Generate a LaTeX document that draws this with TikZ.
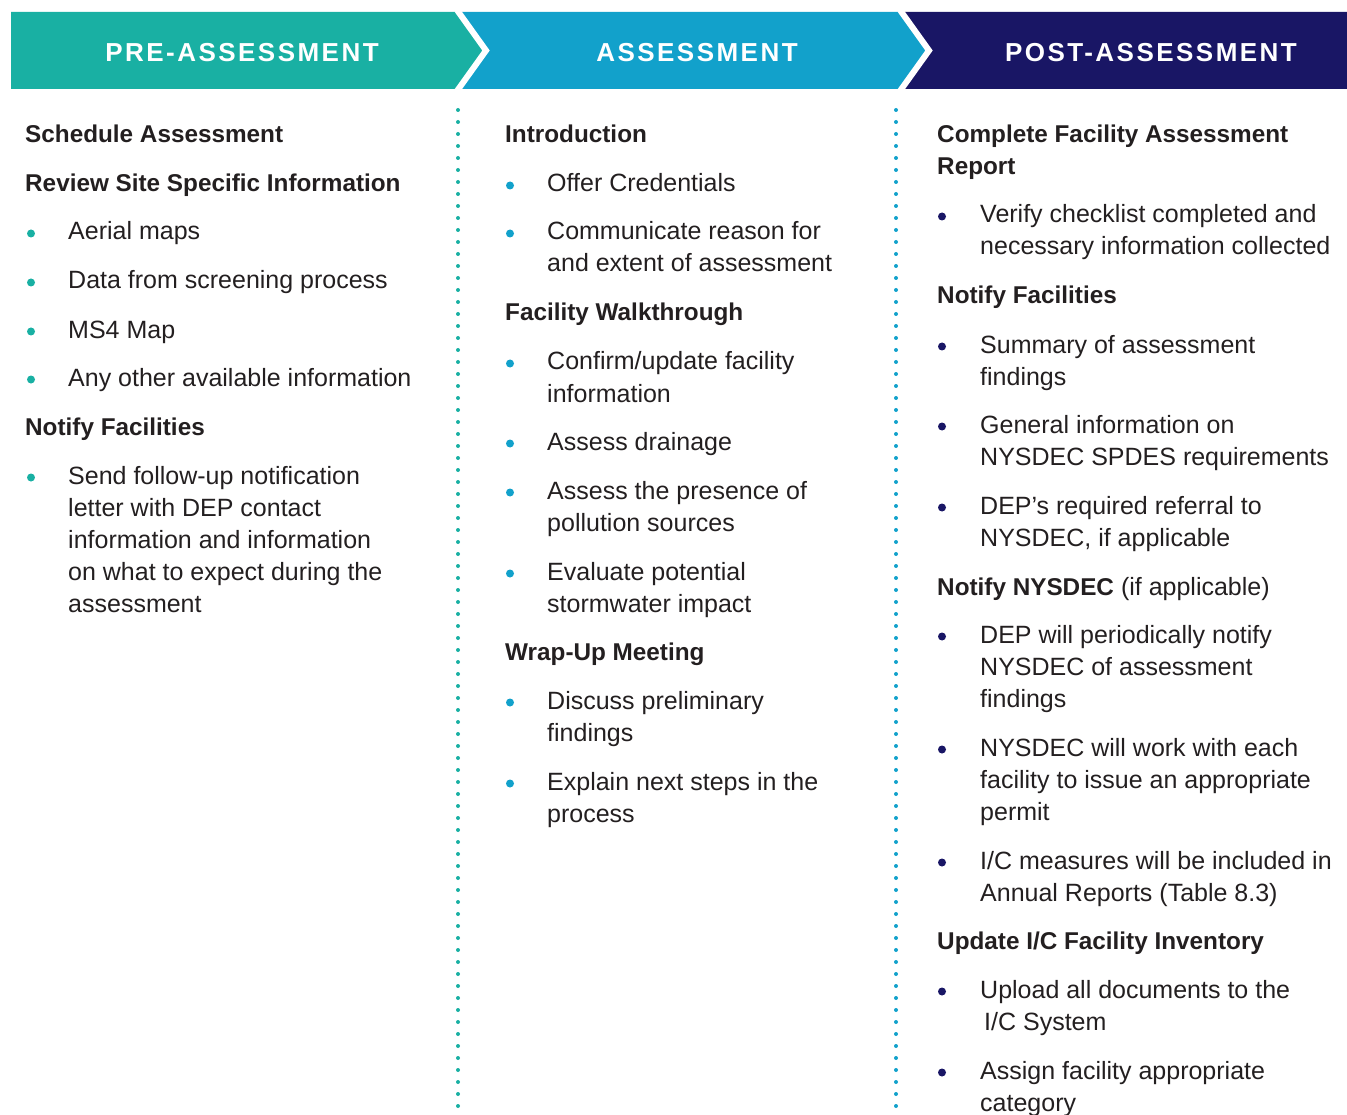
\documentclass[tikz,border=0pt]{standalone}
\usepackage{fontspec}
\setmainfont{Liberation Sans}
\newfontfamily\hdfont[LetterSpace=9.5]{Liberation Sans}
\definecolor{cteal}{HTML}{19B0A3}
\definecolor{cblue}{HTML}{12A1CB}
\definecolor{cnavy}{HTML}{191665}
\definecolor{ink}{HTML}{231F20}
\begin{document}
\begin{tikzpicture}[x=1pt,y=-1pt,
  hd/.style={anchor=base west, inner sep=0pt, font=\fontsize{24.3}{30}\selectfont\bfseries, text=ink},
  tx/.style={anchor=base west, inner sep=0pt, font=\fontsize{25}{32}\selectfont, text=ink},
  bul/.style={circle, fill=#1, inner sep=0pt, minimum size=8pt, yshift=3pt},
  hdr/.style={inner sep=0pt, font=\hdfont\fontsize{26}{30}\selectfont\bfseries, text=white},
  dots/.style={draw=#1, line width=4pt, line cap=round, dash pattern=on 0pt off 12pt}]
\useasboundingbox (0,0) rectangle (1347,1115);
% header band
\fill[cteal] (11,12) -- (457,12) -- (486,50.5) -- (457,89) -- (11,89) -- cycle;
\fill[cblue] (457,12) -- (900,12) -- (929,50.5) -- (900,89) -- (457,89) -- (486,50.5) -- cycle;
\fill[cnavy] (900,12) -- (1347,12) -- (1347,89) -- (900,89) -- (929,50.5) -- cycle;
\draw[white, line width=6pt] (457,10) -- (486,50.5) -- (457,91);
\draw[white, line width=6pt] (900,10) -- (929,50.5) -- (900,91);
\node[hdr] (h1) at (242,53) {PRE-ASSESSMENT};
\node[hdr] (h2) at (697,53) {ASSESSMENT};
\node[hdr] (h3) at (1151,53) {POST-ASSESSMENT};
% dotted separators
\coordinate (d1t) at (458,110); \coordinate (d1b) at (458,1120);
\coordinate (d2t) at (896,110); \coordinate (d2b) at (896,1120);
\draw[dots=cteal] (d1t) -- (d1b);
\draw[dots=cblue] (d2t) -- (d2b);
% column 1
\node[hd] (a1) at (25,143) {Schedule Assessment};
\node[hd] (a2) at (25,192) {Review Site Specific Information};
\node[bul=cteal] (ab1) at (31,236.5) {}; \node[tx] (at1) at (68,240) {Aerial maps};
\node[bul=cteal] (ab2) at (31,285.5) {}; \node[tx] (at2) at (68,289) {Data from screening process};
\node[bul=cteal] (ab3) at (31,334.5) {}; \node[tx] (at3) at (68,338) {MS4 Map};
\node[bul=cteal] (ab4) at (31,382.5) {}; \node[tx] (at4) at (68,386) {Any other available information};
\node[hd] (a3) at (25,435) {Notify Facilities};
\node[bul=cteal] (ab5) at (31,480.5) {};
\node[tx] (at5a) at (68,484) {Send follow-up notification};
\node[tx] (at5b) at (68,516) {letter with DEP contact};
\node[tx] (at5c) at (68,548) {information and information};
\node[tx] (at5d) at (68,580) {on what to expect during the};
\node[tx] (at5e) at (68,612) {assessment};
% column 2
\node[hd] (b1) at (505,143) {Introduction};
\node[bul=cblue] (bb1) at (510,188.5) {}; \node[tx] (bt1) at (547,192) {Offer Credentials};
\node[bul=cblue] (bb2) at (510,236.5) {}; \node[tx] (bt2a) at (547,240) {Communicate reason for};
\node[tx] (bt2b) at (547,272) {and extent of assessment};
\node[hd] (b2) at (505,321) {Facility Walkthrough};
\node[bul=cblue] (bb3) at (510,366.5) {}; \node[tx] (bt3a) at (547,370) {Confirm/update facility};
\node[tx] (bt3b) at (547,402) {information};
\node[bul=cblue] (bb4) at (510,446.5) {}; \node[tx] (bt4) at (547,450) {Assess drainage};
\node[bul=cblue] (bb5) at (510,495.5) {}; \node[tx] (bt5a) at (547,499) {Assess the presence of};
\node[tx] (bt5b) at (547,531) {pollution sources};
\node[bul=cblue] (bb6) at (510,576.5) {}; \node[tx] (bt6a) at (547,580) {Evaluate potential};
\node[tx] (bt6b) at (547,612) {stormwater impact};
\node[hd] (b3) at (505,660) {Wrap-Up Meeting};
\node[bul=cblue] (bb7) at (510,705.5) {}; \node[tx] (bt7a) at (547,709) {Discuss preliminary};
\node[tx] (bt7b) at (547,741) {findings};
\node[bul=cblue] (bb8) at (510,786.5) {}; \node[tx] (bt8a) at (547,790) {Explain next steps in the};
\node[tx] (bt8b) at (547,822) {process};
% column 3
\node[hd] (c1a) at (937,143) {Complete Facility Assessment};
\node[hd] (c1b) at (937,175) {Report};
\node[bul=cnavy] (cb1) at (942,219.5) {}; \node[tx] (ct1a) at (980,223) {Verify checklist completed and};
\node[tx] (ct1b) at (980,255) {necessary information collected};
\node[hd] (c2) at (937,304) {Notify Facilities};
\node[bul=cnavy] (cb2) at (942,349.5) {}; \node[tx] (ct2a) at (980,353) {Summary of assessment};
\node[tx] (ct2b) at (980,385) {findings};
\node[bul=cnavy] (cb3) at (942,429.5) {}; \node[tx] (ct3a) at (980,433) {General information on};
\node[tx] (ct3b) at (980,465) {NYSDEC SPDES requirements};
\node[bul=cnavy] (cb4) at (942,510.5) {}; \node[tx] (ct4a) at (980,514) {DEP’s required referral to};
\node[tx] (ct4b) at (980,546) {NYSDEC, if applicable};
\node[tx] (c3) at (937,595) {\bfseries\fontsize{24.3}{30}\selectfont Notify NYSDEC\mdseries\fontsize{25}{32}\selectfont{} (if applicable)};
\node[bul=cnavy] (cb5) at (942,639.5) {}; \node[tx] (ct5a) at (980,643) {DEP will periodically notify};
\node[tx] (ct5b) at (980,675) {NYSDEC of assessment};
\node[tx] (ct5c) at (980,707) {findings};
\node[bul=cnavy] (cb6) at (942,752.5) {}; \node[tx] (ct6a) at (980,756) {NYSDEC will work with each};
\node[tx] (ct6b) at (980,788) {facility to issue an appropriate};
\node[tx] (ct6c) at (980,820) {permit};
\node[bul=cnavy] (cb7) at (942,865.5) {}; \node[tx] (ct7a) at (980,869) {I/C measures will be included in};
\node[tx] (ct7b) at (980,901) {Annual Reports (Table 8.3)};
\node[hd] (c4) at (937,949) {Update I/C Facility Inventory};
\node[bul=cnavy] (cb8) at (942,994.5) {}; \node[tx] (ct8a) at (980,998) {Upload all documents to the};
\node[tx] (ct8b) at (984,1030) {I/C System};
\node[bul=cnavy] (cb9) at (942,1075.5) {}; \node[tx] (ct9a) at (980,1079) {Assign facility appropriate};
\node[tx] (ct9b) at (980,1111) {category};
\end{tikzpicture}
\end{document}
